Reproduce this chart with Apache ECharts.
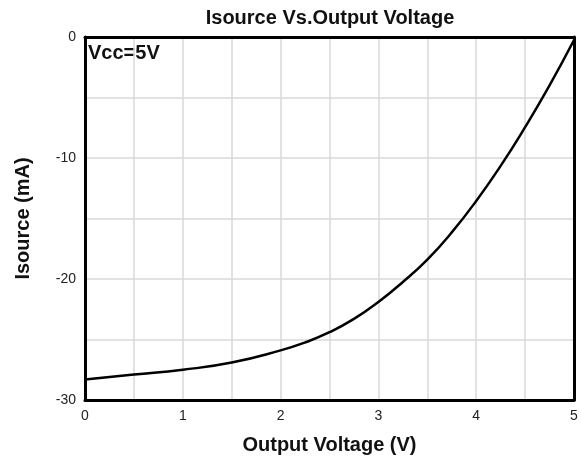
<!DOCTYPE html>
<html>
<head>
<meta charset="utf-8">
<script src="https://cdn.jsdelivr.net/npm/echarts@6/dist/echarts.min.js"></script>
<style>html,body{margin:0;padding:0;background:#fff}#main{width:581px;height:460px}</style>
</head>
<body>
<div id="main"></div>
<script>
var voltage = [0, 0.5, 1, 1.5, 2, 2.25, 2.5, 2.75, 3, 3.25, 3.5, 3.75, 4, 4.25, 4.5, 4.75, 5];
var isource = [-28.3, -27.9, -27.5, -26.9, -25.9, -25.25, -24.4, -23.3, -21.9, -20.25, -18.4, -16.15, -13.55, -10.65, -7.45, -4.0, -0.25];

var points = voltage.map(function (v, i) { return [v, isource[i]]; });

var myChart = echarts.init(document.getElementById('main'));
var font = 'Liberation Sans, Arial, sans-serif';
var nameStyle = {fontFamily: font, fontSize: 20, fontWeight: 'bold', color: '#111'};
var frame = {show: true, onZero: false, lineStyle: {color: '#000', width: 3}};
var option = {
    animation: false,
    title: {
        text: 'Isource Vs.Output Voltage',
        left: 330, top: 8, textAlign: 'center', padding: 0,
        textStyle: {fontFamily: font, fontSize: 20, fontWeight: 'bold', color: '#111'}
    },
    graphic: [{
        type: 'text', left: 88, top: 43,
        style: {text: 'Vcc=5V', fontFamily: font, fontSize: 20, fontWeight: 'bold', fill: '#111'}
    }],
    grid: {left: 85, right: 7, top: 37, bottom: 60},
    xAxis: [{
        type: 'value', min: 0, max: 5, interval: 0.5,
        name: 'Output Voltage (V)', nameLocation: 'middle', nameGap: 35,
        nameTextStyle: nameStyle,
        axisLine: frame, axisTick: {show: false},
        axisLabel: {
            fontFamily: font, fontSize: 14, color: '#222', margin: 9,
            formatter: function (v) { return v % 1 === 0 ? String(v) : ''; }
        },
        splitLine: {lineStyle: {color: '#d9d9d9', width: 1.5}}
    }, {
        type: 'value', min: 0, max: 5, position: 'top',
        axisLine: frame, axisTick: {show: false}, axisLabel: {show: false}, splitLine: {show: false}
    }],
    yAxis: [{
        type: 'value', min: -30, max: 0, interval: 5,
        name: 'Isource (mA)', nameLocation: 'middle', nameGap: 52,
        nameTextStyle: nameStyle,
        axisLine: frame, axisTick: {show: false},
        axisLabel: {
            fontFamily: font, fontSize: 14, color: '#222', margin: 9,
            formatter: function (v) { return v % 10 === 0 ? String(v) : ''; }
        },
        splitLine: {lineStyle: {color: '#d9d9d9', width: 1.5}}
    }, {
        type: 'value', min: -30, max: 0, position: 'right',
        axisLine: frame, axisTick: {show: false}, axisLabel: {show: false}, splitLine: {show: false}
    }],
    series: [{
        type: 'line',
        data: points,
        smooth: 0.5,
        showSymbol: false,
        lineStyle: {color: '#000', width: 2.5}
    }]
};
myChart.setOption(option);
</script>
</body>
</html>
